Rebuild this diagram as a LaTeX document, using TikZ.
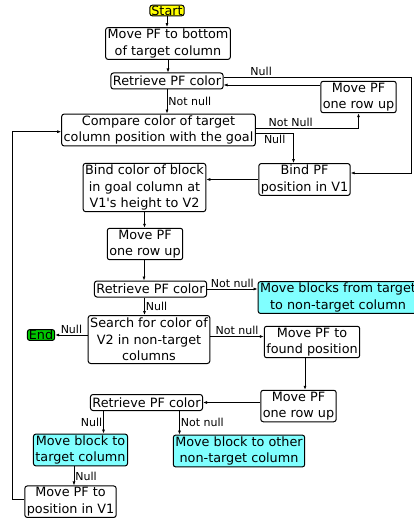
\documentclass[tikz,border=0pt]{standalone}
\usepackage{fontspec}
\setmainfont{DejaVu Sans}
\usetikzlibrary{arrows.meta}
\definecolor{startyellow}{RGB}{255,255,0}
\definecolor{endgreen}{RGB}{0,200,0}
\definecolor{actcyan}{RGB}{128,255,255}
\begin{document}
\begin{tikzpicture}[
    x=1pt, y=-1pt,
    box/.style={rectangle, rounded corners=2.5pt, draw, line width=1pt, fill=white, align=center, inner xsep=2pt, inner ysep=1.5pt, font=\fontsize{12.8}{16.5}\selectfont},
    one/.style={box, minimum height=16pt},
    act/.style={box, fill=actcyan},
    term/.style={box, inner xsep=1.5pt, inner ysep=0.5pt},
    flow/.style={-{Latex[length=4pt,width=3pt]}, line width=0.7pt},
    lbl/.style={font=\fontsize{11}{13}\selectfont, inner sep=1pt}
  ]
    \useasboundingbox (0,0) rectangle (414,521);
    \node[term, fill=startyellow] (start) at (167,10.5) {Start};
    \node[box] (bottom) at (168,43.5) {Move PF to bottom\\of target column};
    \node[one] (ret1) at (167,81) {Retrieve PF color};
    \node[box] (upr) at (358.5,97) {Move PF\\one row up};
    \node[box] (cmp) at (158.5,130) {Compare color of target\\column position with the goal};
    \node[box] (bindpf) at (304.5,179.5) {Bind PF\\position in V1};
    \node[box] (bindcol) at (144.5,187.5) {Bind color of block\\in goal column at\\V1\textquotesingle s height to V2};
    \node[box] (upm) at (145,244) {Move PF\\one row up};
    \node[one] (ret2) at (150.5,289) {Retrieve PF color};
    \node[act] (mvfrom) at (338,297.5) {Move blocks from target\\to non-target column};
    \node[box, minimum height=48pt] (search) at (149,339.5) {Search for color of\\V2 in non-target\\columns};
    \node[term, fill=endgreen] (end) at (41,335) {End};
    \node[box] (found) at (312,342) {Move PF to\\found position};
    \node[box] (upl) at (298.5,406) {Move PF\\one row up};
    \node[one] (ret3) at (146.5,402.5) {Retrieve PF color};
    \node[act] (mvtgt) at (80.5,450) {Move block to\\target column};
    \node[act] (mvoth) at (239,451) {Move block to other\\non-target column};
    \node[box] (back) at (70.5,501.7) {Move PF to\\position in V1};

    \draw[flow] (start.south) -- (start.south |- bottom.north);
    \draw[flow] (bottom.south) -- (bottom.south |- ret1.north);
    \draw[flow] (ret1.south) -- node[lbl, right] {Not null} (ret1.south |- cmp.north);
    \draw[flow] ([yshift=4pt]ret1.east) -- node[lbl, above, pos=0.2] {Null} ++(188,0) |- ([yshift=6.5pt]bindpf.east);
    \draw[flow] ([yshift=12pt]upr.west) -- ([yshift=-4pt]ret1.east);
    \draw[flow] ([yshift=2pt]cmp.east) -| node[lbl, above, pos=0.17] {Not Null} (upr.south);
    \draw[flow] ([yshift=-3.3pt]cmp.east) -| node[lbl, below, pos=0.25] {Null} ([xshift=-11pt]bindpf.north);
    \draw[flow] (bindpf.west) -- (bindpf.west -| bindcol.east);
    \draw[flow] (bindcol.south) -- (bindcol.south |- upm.north);
    \draw[flow] ([xshift=-1pt]upm.south) -- ([xshift=-1pt]upm.south |- ret2.north);
    \draw[flow] (ret2.east) -- node[lbl, above] {Not null} (ret2.east -| mvfrom.west);
    \draw[flow] ([xshift=-6pt]ret2.south) -- node[lbl, right] {Null} ([xshift=-6pt]ret2.south |- search.north);
    \draw[flow] (search.west |- end.east) -- node[lbl, above] {Null} (end.east);
    \draw[flow] ([yshift=3pt]search.east) -- node[lbl, above] {Not null} ([yshift=3pt]search.east -| found.west);
    \draw[flow] ([xshift=-7pt]found.south) -- ([xshift=-7pt]found.south |- upl.north);
    \draw[flow] (upl.west |- ret3.east) -- (ret3.east);
    \draw[flow] ([xshift=-43pt]ret3.south) -- node[lbl, left] {Null} ([xshift=-43pt]ret3.south |- mvtgt.north);
    \draw[flow] ([xshift=33pt]ret3.south) -- node[lbl, right] {Not null} ([xshift=33pt]ret3.south |- mvoth.north);
    \draw[flow] ([xshift=-6.5pt]mvtgt.south) -- node[lbl, right] {Null} ([xshift=-6.5pt]mvtgt.south |- back.north);
    \draw[flow] ([yshift=2.4pt]back.west) -- ++(-12,0) |- ([yshift=-1.7pt]cmp.west);
  \end{tikzpicture}
\end{document}
